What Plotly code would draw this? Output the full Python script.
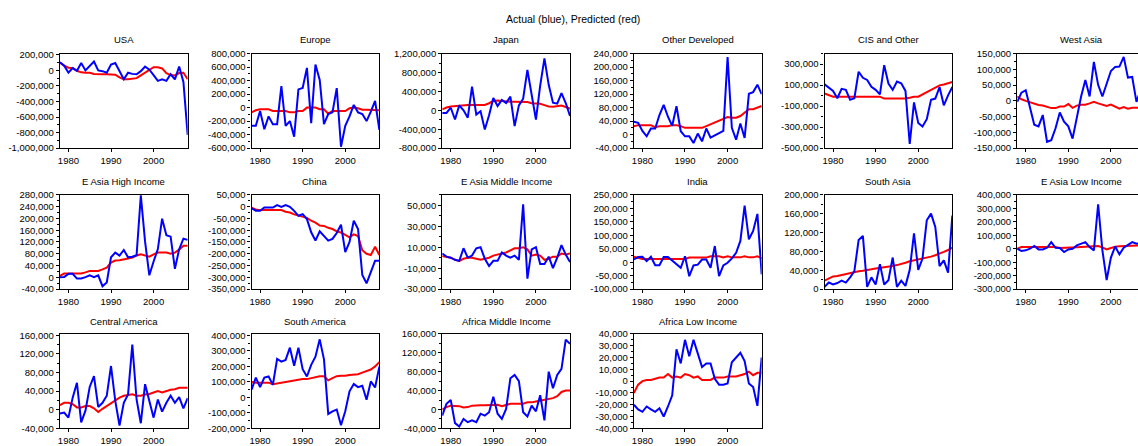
import plotly.graph_objects as go

# Annual observations, 1978-2008 (values in thousands)
years = list(range(1978, 2009))

regions = [
    "USA", "Europe", "Japan", "Other Developed", "CIS and Other", "West Asia",
    "E Asia High Income", "China", "E Asia Middle Income", "India", "South Asia", "E Asia Low Income",
    "Central America", "South America", "Africa Middle Income", "Africa Low Income",
]

usa_actual = [105, 60, -30, 30, -5, 95, 0, 60, 115, 0, -10, -30, 75, 95, -10, -115, -30, -45, -50, -10,
              50, 10, -60, -135, -115, -135, -50, -115, 50, -150, -830]
usa_pred = [100, 60, 35, 30, -5, -25, -30, -30, -45, -50, -50, -50, -50, -55, -90, -115, -115, -105, -100, -65,
            -30, 0, 40, 40, 25, -35, -60, -65, -35, -30, -115]

europe_actual = [-270, -270, -50, -320, -130, -245, -245, 320, -270, -200, -430, 270, 290, 590, -230, 640, 410,
                 -245, -95, -70, 290, -580, -270, -130, 40, -70, -95, -200, -60, 100, -330]
europe_pred = [-70, -40, -25, -25, -25, -50, -50, -50, -50, -70, -70, -50, -50, 0, 0, 0, -25, -25, -90, -50,
               -50, -50, -50, -10, 0, -10, -30, -30, -30, -30, -40]

japan_actual = [-55, -55, 55, -195, 105, 0, -155, 500, -90, -20, -405, -105, 260, 90, 220, 155, 290, -335, 105,
                245, 855, 280, -195, 525, 1100, 540, 160, 140, 365, 155, -120]
japan_pred = [20, 60, 80, 90, 100, 100, 110, 110, 110, 110, 115, 150, 200, 210, 200, 180, 180, 180, 180, 180,
              175, 150, 150, 140, 110, 80, 75, 80, 100, 70, 40]

otherdev_actual = [38, 35, 11, -5, 18, 18, 58, 88, 53, 26, 84, 10, -5, -5, -25, 3, -20, 18, -9, -2, 5, 11, 230,
                   20, -15, 33, -10, 121, 126, 148, 120]
otherdev_pred = [25, 28, 28, 28, 28, 22, 25, 25, 25, 28, 28, 25, 20, 20, 20, 20, 20, 25, 30, 35, 40, 45, 52, 50,
                 50, 55, 65, 75, 75, 80, 85]

cis_actual = [107, 75, 45, -25, 65, 55, -40, -25, 228, 170, 150, 85, 55, 12, 290, 115, 55, 135, 117, 45, -460,
              -65, -260, -295, -225, -40, -28, 82, -92, 3, 82]
cis_pred = [20, 5, -10, -10, -10, -10, -10, -10, -10, -10, -10, -10, -10, -10, -28, -28, -28, -28, -28, -28, -20,
            -10, -10, 12, 35, 60, 82, 98, 107, 115, 130]

westasia_actual = [-3, 26, 34, -26, -76, -81, -45, -130, -125, -87, -37, -66, -81, -120, -53, 14, 66, 14, 124,
                   51, 14, 58, 95, 108, 109, 140, 74, 76, -3, 35, 20]
westasia_pred = [14, 5, 0, -5, -10, -13, -15, -20, -23, -23, -18, -18, -10, -22, -15, -12, -12, -8, -3, -8, -12,
                 -16, -12, -18, -25, -20, -25, -22, -22, -22, -22]

eahigh_actual = [0, 1, 12, 12, -4, -4, 1, 7, 1, 7, -30, -17, 68, 84, 74, 93, 68, 70, 75, 278, 121, 7, 54, 96,
                 199, 143, 138, 29, 95, 131, 127]
eahigh_pred = [5, 13, 13, 13, 13, 13, 17, 22, 22, 22, 27, 33, 50, 57, 58, 62, 64, 67, 74, 78, 74, 70, 78, 84, 84,
               84, 80, 84, 94, 107, 107]

china_actual = [-7, -18, -18, -4, -4, -4, 6, -1, 6, -1, -18, -39, -32, -53, -109, -144, -105, -123, -144, -137,
                -112, -77, -193, -150, -60, -95, -290, -325, -275, -230, -230]
china_pred = [-5, -12, -15, -15, -15, -15, -15, -15, -22, -25, -33, -38, -42, -48, -60, -68, -80, -82, -90, -95,
              -105, -110, -120, -130, -118, -125, -185, -200, -205, -170, -205]

eamid_actual = [4, 1, 0, -2, -3, 9, 0, 2, 9, 10, -1, -8, -3, -3, 5, 2, 0, 2, -2, 51, -20, 8, 10, -6, -6, 1, -10,
                0, 12, 3, -4]
eamid_pred = [1.5, 1, 0, -2, -3, -1, 0, 0, -1, -2, -1, 0, 2, 3, 4, 5, 7, 9, 9, 10, 8, 2, 3, 2, -2, -1, 1, 1, 4,
              3, 4]

india_actual = [10, 19, 20, 4, 20, -11, -11, 19, 19, 6, -6, -21, 22, -52, -12, -9, 10, 10, -21, 60, -52, -12, -2,
                14, 35, 79, 210, 85, 116, 179, -45]
india_pred = [20, 15, 12, 12, 12, 12, 12, 12, 12, 12, 12, 12, 12, 17, 17, 17, 17, 17, 22, 22, 22, 18, 22, 18, 18,
              18, 22, 18, 18, 22, 15]

southasia_actual = [5, 14, 10, 13, 18, 14, 25, 38, 104, 113, 5, 25, 10, 53, 10, 19, 67, 5, 18, 7, 41, 118, 41, 65,
                    146, 160, 132, 49, 61, 35, 156]
southasia_pred = [18, 22, 27, 28, 30, 33, 35, 37, 38, 39, 40, 42, 44, 45, 46, 47, 49, 51, 53, 56, 59, 61, 62, 64,
                  66, 69, 72, 75, 79, 83, 88]

ealow_actual = [0, -17, -12, 0, 20, -5, -5, 7, 49, 7, 5, -25, -5, 0, 25, 37, 49, 12, -12, 330, -12, -232, -66, 17,
                -42, 7, 25, 49, 37, 40, 30]
ealow_pred = [0, 12, 12, 12, 12, 12, 12, 12, 12, 12, 5, 5, 5, 10, 10, 12, 15, 18, 20, 20, 10, -5, 5, 15, 18, 20,
              20, 22, 25, 25, 25]

camerica_actual = [-8, -6, -17, 26, 58, -27, -2, 49, 72, 6, 15, 30, 94, 19, -34, 15, 33, 140, 22, -29, 55, 19, -17,
                   22, -4, 15, 30, 15, 27, 3, 25]
camerica_pred = [10, 15, 15, 12, 5, 5, 8, 8, 3, -5, 2, 8, 15, 20, 26, 30, 32, 33, 30, 30, 33, 34, 37, 40, 37, 40,
                 43, 44, 47, 47, 47]

samerica_actual = [50, 128, 66, 128, 135, 81, 248, 231, 242, 321, 205, 321, 182, 135, 210, 263, 375, 246, -107,
                   -90, -79, -180, -90, 39, 86, 66, 75, -15, 103, 64, 199]
samerica_pred = [100, 95, 95, 95, 95, 85, 90, 95, 100, 105, 110, 115, 118, 118, 125, 135, 137, 137, 110, 125, 137,
                 140, 140, 145, 148, 150, 160, 168, 180, 200, 228]

afmid_actual = [-13, 12, 20, -29, -36, -20, -27, -23, -27, -9, -13, -6, 27, -9, -20, 1, 66, 73, 60, -6, -15, 8, -4,
                30, -23, 80, 45, 73, 86, 148, 139]
afmid_pred = [0, 5, 8, 8, 7, 4, 5, 8, 9, 9, 9, 9, 9, 10, 7, 10, 12, 12, 12, 12, 15, 15, 17, 19, 20, 22, 24, 28, 37,
              40, 40]

aflow_actual = [-20, -24, -26, -21.5, -24, -26, -23, -30, -21.5, -12, 27, 15, 35, 21, 35, 23, 12, 15, 15, 2, -3,
                -3, -2, 16, 20, 24, 17, -2, -5, -21, 20]
aflow_pred = [-10, -3, 0, 1, 1, 2, 3, 3, 6, 3, 4, 3, 6, 5, 3, 4, 1, 1, 1, 3, 3, 3, 4, 4, 4, 5, 6, 8, 5, 7, 7]

actual = [usa_actual, europe_actual, japan_actual, otherdev_actual, cis_actual, westasia_actual,
          eahigh_actual, china_actual, eamid_actual, india_actual, southasia_actual, ealow_actual,
          camerica_actual, samerica_actual, afmid_actual, aflow_actual]
predicted = [usa_pred, europe_pred, japan_pred, otherdev_pred, cis_pred, westasia_pred,
             eahigh_pred, china_pred, eamid_pred, india_pred, southasia_pred, ealow_pred,
             camerica_pred, samerica_pred, afmid_pred, aflow_pred]

# y-axis (lower, upper, first tick, last tick, tick step), thousands
y_axes = [
    (-1000, 215, -1000, 200, 200), (-600, 800, -600, 800, 200), (-800, 1200, -800, 1200, 400),
    (-40, 240, -40, 240, 40), (-500, 400, -500, 300, 200), (-150, 150, -150, 150, 50),
    (-40, 280, -40, 280, 40), (-350, 50, -350, 50, 50), (-30, 60, -30, 50, 20),
    (-100, 250, -100, 250, 50), (0, 200, 0, 200, 40), (-300, 400, -300, 400, 100),
    (-40, 163, -40, 160, 40), (-200, 410, -200, 400, 100), (-40, 160, -40, 160, 40),
    (-40, 40, -40, 40, 10),
]
x_ticks = [1980, 1990, 2000]

W, H = 1138, 446
col_left = [58, 250, 441, 633, 824, 1017]
col_w = 128
row_top = [49, 194, 337]
row_h = 97
title_gap = [15, 14, 13]

FONT = "Liberation Sans, Arial, sans-serif"
fig = go.Figure()
annotations = []
layout = {}

for i, name in enumerate(regions):
    r, c = divmod(i, 6)
    n = "" if i == 0 else str(i + 1)
    x0 = col_left[c]
    x1 = min(x0 + col_w, W)
    clipped = x0 + col_w > W
    xdom = [x0 / W, x1 / W]
    ydom = [1 - (row_top[r] + row_h) / H, 1 - row_top[r] / H]
    x_end = 1978 + (x1 - x0) / col_w * 30

    lo, hi, t0, t1, step = y_axes[i]
    tv = list(range(t0, t1 + 1, step))
    tickvals = [v * 1000 for v in tv]
    ticktext = [f"{v * 1000:,}" for v in tv]

    layout["xaxis" + n] = dict(
        domain=xdom, range=[1978, x_end], anchor="y" + n,
        tickvals=x_ticks, ticktext=[str(t) for t in x_ticks],
        ticks="outside", ticklen=3, tickcolor="black",
        showline=True, linecolor="black", linewidth=1.3, mirror=True,
        showgrid=False, zeroline=False,
        tickfont=dict(family=FONT, size=9.5, color="black"),
        fixedrange=True,
    )
    layout["yaxis" + n] = dict(
        domain=ydom, range=[lo * 1000, hi * 1000], anchor="x" + n,
        tickvals=tickvals, ticktext=ticktext,
        ticks="outside", ticklen=3, tickcolor="black",
        minor=dict(tickvals=[(v + step / 2) * 1000 for v in tv if v + step / 2 <= hi],
                   ticks="outside", ticklen=2, tickcolor="black"),
        showline=True, linecolor="black", linewidth=1.3, mirror=not clipped,
        showgrid=False, zeroline=False,
        tickfont=dict(family=FONT, size=9.5, color="black"),
        fixedrange=True,
    )

    fig.add_trace(go.Scatter(x=years, y=[v * 1000 for v in predicted[i]], mode="lines",
                             line=dict(color="#ff0000", width=2), xaxis="x" + n, yaxis="y" + n,
                             showlegend=False, hoverinfo="skip"))
    fig.add_trace(go.Scatter(x=years, y=[v * 1000 for v in actual[i]], mode="lines",
                             line=dict(color="#0000ff", width=2), xaxis="x" + n, yaxis="y" + n,
                             showlegend=False, hoverinfo="skip"))

    annotations.append(dict(
        text=name, x=(x0 + col_w / 2) / W, y=1 - (row_top[r] - title_gap[r]) / H,
        xref="paper", yref="paper", xanchor="center", yanchor="middle", showarrow=False,
        font=dict(family=FONT, size=9.5, color="black"),
    ))

annotations.append(dict(
    text="Actual (blue), Predicted (red)", x=572 / W, y=1 - 13 / H,
    xref="paper", yref="paper", xanchor="center", yanchor="middle", showarrow=False,
    font=dict(family=FONT, size=10.5, color="black"),
))

fig.update_layout(
    width=W, height=H, margin=dict(l=0, r=0, t=0, b=0),
    paper_bgcolor="white", plot_bgcolor="white",
    annotations=annotations, **layout,
)

fig.write_html("out.html", config={"displayModeBar": False})
